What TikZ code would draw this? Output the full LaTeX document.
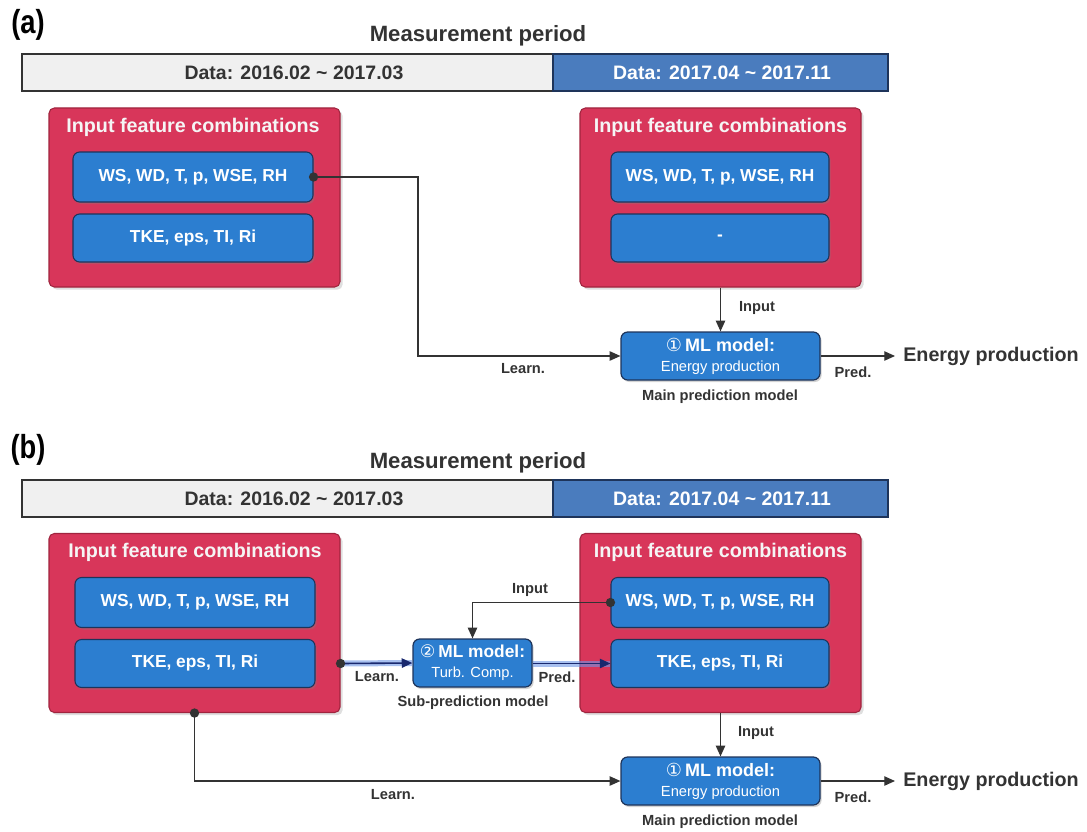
\documentclass[tikz,border=0pt]{standalone}
\usepackage{fontspec}
\setmainfont{Liberation Sans}
\newfontfamily\symf{DejaVu Sans}
\newfontfamily\narrowf{Liberation Sans}[FakeStretch=0.82]
\usetikzlibrary{arrows.meta,shadows,calc}
\definecolor{redfill}{RGB}{216,54,90}
\definecolor{reddark}{RGB}{160,36,62}
\definecolor{bluefill}{RGB}{44,126,208}
\definecolor{bluedark}{RGB}{30,52,90}
\definecolor{barblue}{RGB}{74,124,190}
\definecolor{bargray}{RGB}{240,240,240}
\definecolor{txt}{RGB}{51,51,51}
\definecolor{navy}{RGB}{25,40,110}
\definecolor{glow}{RGB}{110,150,230}
\begin{document}
\begin{tikzpicture}[x=0.75pt,y=-0.75pt,
  panel/.style={font=\narrowf\fontsize{25}{28}\bfseries\selectfont, text=black},
  mtitle/.style={font=\fontsize{16.6}{19}\bfseries\selectfont, text=txt},
  barl/.style={draw=txt, line width=1.2pt, fill=bargray, text=txt, minimum height=27.75pt, inner sep=0pt, font=\fontsize{14.6}{17}\bfseries\selectfont},
  barr/.style={draw=bluedark, line width=1.2pt, fill=barblue, text=white, minimum height=27.75pt, inner sep=0pt, font=\fontsize{14.6}{17}\bfseries\selectfont},
  redbox/.style={draw=reddark, line width=0.8pt, fill=redfill, rounded corners=4pt, minimum height=134.25pt, inner sep=0pt, drop shadow={opacity=0.25, shadow xshift=2pt, shadow yshift=-2pt}},
  rtitle/.style={text=white!96!black, font=\fontsize{14.8}{17}\bfseries\selectfont},
  featbox/.style={draw=bluedark, line width=0.8pt, fill=bluefill, rounded corners=5pt, text=white, inner sep=0pt, font=\fontsize{13}{15}\bfseries\selectfont, drop shadow={opacity=0.35, shadow xshift=1.2pt, shadow yshift=-1.5pt}},
  mlbox/.style={draw=bluedark, line width=0.9pt, fill=bluefill, rounded corners=5pt, text=white, inner sep=0pt, minimum height=36pt, align=center, drop shadow={opacity=0.35, shadow xshift=1.2pt, shadow yshift=-1.5pt}},
  lab/.style={text=txt, font=\fontsize{11}{13}\bfseries\selectfont, inner sep=0pt},
  big/.style={text=txt, font=\fontsize{14.8}{17}\bfseries\selectfont, inner sep=0pt, anchor=west},
  conn/.style={draw=txt, line width=0.9pt},
  arr/.style={conn, -{Triangle[length=8pt,width=7pt]}},
  bluearr/.style={draw=navy, line width=1.2pt, -{Triangle[length=8pt,width=7pt]}},
  halo/.style={draw=glow, line width=4.5pt, opacity=0.6},
  dot/.style={fill=txt}
]
\useasboundingbox (0,0) rectangle (1087,831);

% ================= (a) =================
\node[panel] (pa) at (28,25) {(a)};
\node[mtitle] (ma) at (478,36) {Measurement period};
\node[barl, minimum width=398.25pt] (barLa) at (287.5,72.5) {};
\node[barr, minimum width=251.25pt] (barRa) at (720.5,72.5) {};
\node[text=txt, font=\fontsize{14.6}{17}\bfseries\selectfont] (tLa) at (294,72.5) {Data: 2016.02 \char`~\ 2017.03};
\node[text=white, font=\fontsize{14.6}{17}\bfseries\selectfont] (tRa) at (722,72.5) {Data: 2017.04 \char`~\ 2017.11};

\node[redbox, minimum width=218.25pt] (redLa) at (194.5,197.5) {};
\node[rtitle] (titLa) at (193,127) {Input feature combinations};
\node[featbox, minimum width=180pt, minimum height=37.5pt] (bLa1) at (193,177) {WS, WD, T, p, WSE, RH};
\node[featbox, minimum width=180pt, minimum height=36pt] (bLa2) at (193,238) {TKE, eps, TI, Ri};

\node[redbox, minimum width=210.75pt] (redRa) at (720.5,197.5) {};
\node[rtitle] (titRa) at (720.5,127) {Input feature combinations};
\node[featbox, minimum width=163.5pt, minimum height=37.5pt] (bRa1) at (720,177) {WS, WD, T, p, WSE, RH};
\node[featbox, minimum width=163.5pt, minimum height=36pt] (bRa2) at (720,238) {-};

\node[mlbox, minimum width=149.25pt] (mla) at (720.5,356) {{\fontsize{13.5}{15.75}\bfseries\selectfont{\symf\mdseries ①}\,ML model:}\\[3pt]{\fontsize{11}{13}\selectfont Energy production}};
\node[lab] (mpa) at (720,397) {Main prediction model};
\node[big] (epa) at (903,356) {Energy production};

\coordinate (ta) at (418,177);
\draw[arr] (bLa1.east) -- (ta) |- (mla.west);
\fill[dot] (bLa1.east) circle (3.5pt);
\draw[arr] (redRa.south) -- (mla.north);
\draw[arr, shorten >=6pt] (mla.east) -- (epa.west);
\node[lab] (la1) at (523,369) {Learn.};
\node[lab] (ia1) at (757,308) {Input};
\node[lab] (pra) at (853,372) {Pred.};

% ================= (b) =================
\node[panel] (pb) at (28,450) {(b)};
\node[mtitle] (mb) at (478,463) {Measurement period};
\node[barl, minimum width=398.25pt] (barLb) at (287.5,498.5) {};
\node[barr, minimum width=251.25pt] (barRb) at (720.5,498.5) {};
\node[text=txt, font=\fontsize{14.6}{17}\bfseries\selectfont] (tLb) at (294,498.5) {Data: 2016.02 \char`~\ 2017.03};
\node[text=white, font=\fontsize{14.6}{17}\bfseries\selectfont] (tRb) at (722,498.5) {Data: 2017.04 \char`~\ 2017.11};

\node[redbox, minimum width=218.25pt] (redLb) at (194.5,623) {};
\node[rtitle] (titLb) at (195,552) {Input feature combinations};
\node[featbox, minimum width=180pt, minimum height=37.5pt] (bLb1) at (195,602.5) {WS, WD, T, p, WSE, RH};
\node[featbox, minimum width=180pt, minimum height=36pt] (bLb2) at (195,663.5) {TKE, eps, TI, Ri};

\node[redbox, minimum width=210.75pt] (redRb) at (720.5,623) {};
\node[rtitle] (titRb) at (720.5,552) {Input feature combinations};
\node[featbox, minimum width=163.5pt, minimum height=37.5pt] (bRb1) at (720,602.5) {WS, WD, T, p, WSE, RH};
\node[featbox, minimum width=163.5pt, minimum height=36pt] (bRb2) at (720,663.5) {TKE, eps, TI, Ri};

\node[mlbox, minimum width=89.25pt] (ml2) at (472.5,663) {{\fontsize{13}{15.75}\bfseries\selectfont{\symf\mdseries ②}\,ML model:}\\[3pt]{\fontsize{11}{13}\selectfont Turb. Comp.}};
\node[lab] (spm) at (473,703) {Sub-prediction model};

\node[mlbox, minimum width=149.25pt] (mlb) at (720.5,781) {{\fontsize{13.5}{15.75}\bfseries\selectfont{\symf\mdseries ①}\,ML model:}\\[3pt]{\fontsize{11}{13}\selectfont Energy production}};
\node[lab] (mpb) at (720,822) {Main prediction model};
\node[big] (epb) at (903,781) {Energy production};

\coordinate (lstart) at (redLb.east |- bLb2.east);
\draw[halo] (lstart) -- (ml2.west);
\draw[bluearr] (lstart) -- (ml2.west);
\fill[dot] (lstart) circle (3.5pt);
\draw[halo] (ml2.east |- bRb2.west) -- (bRb2.west);
\draw[bluearr] (ml2.east |- bRb2.west) -- (bRb2.west);

\draw[arr] (bRb1.west) -| (ml2.north);
\fill[dot] (bRb1.west) circle (3.5pt);

\draw[arr] (redLb.south) |- (mlb.west);
\fill[dot] (redLb.south) circle (3.5pt);
\draw[arr] (redRb.south) -- (mlb.north);
\draw[arr, shorten >=6pt] (mlb.east) -- (epb.west);

\node[lab] (ib1) at (530,590) {Input};
\node[lab] (lb1) at (377,677) {Learn.};
\node[lab] (pb1) at (557,677) {Pred.};
\node[lab] (ib2) at (756,733) {Input};
\node[lab] (lb2) at (393,795) {Learn.};
\node[lab] (pb2) at (853,797) {Pred.};
\end{tikzpicture}
\end{document}
